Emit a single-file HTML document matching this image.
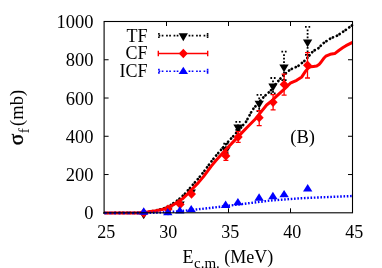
<!DOCTYPE html>
<html><head><meta charset="utf-8"><title>plot</title><style>html,body{margin:0;padding:0;background:#fff;width:382px;height:268px;overflow:hidden}</style></head><body>
<svg width="382" height="268" viewBox="0 0 382 268" style="position:absolute;left:0;top:0;will-change:transform">
<rect width="382" height="268" fill="#fff"/>
<path d="M166.50,212.80 v-4.5 M166.50,21.50 v4.5 M228.50,212.80 v-4.5 M228.50,21.50 v4.5 M290.50,212.80 v-4.5 M290.50,21.50 v4.5 M104.10,174.54 h4.5 M352.50,174.54 h-4.5 M104.10,136.28 h4.5 M352.50,136.28 h-4.5 M104.10,98.02 h4.5 M352.50,98.02 h-4.5 M104.10,59.76 h4.5 M352.50,59.76 h-4.5" stroke="#000" stroke-width="1" fill="none"/>
<path d="M139.05,211.39 L148.35,211.39 L143.70,219.25Z" fill="#000"/>
<path d="M163.35,207.59 L172.65,207.59 L168.00,215.45Z" fill="#000"/>
<path d="M175.45,201.49 L184.75,201.49 L180.10,209.35Z" fill="#000"/>
<path d="M186.65,189.49 L195.95,189.49 L191.30,197.35Z" fill="#000"/>
<path d="M225.9,146.2 V153.2 M223.3,143.6 h5.2 M223.3,153.2 h5.2" stroke="#000" stroke-width="1.8" stroke-dasharray="1.7 1.8" fill="none"/>
<path d="M221.25,146.99 L230.55,146.99 L225.90,154.85Z" fill="#000"/>
<path d="M238.0,124.4 V129.8 M235.4,121.8 h5.2 M235.4,129.8 h5.2" stroke="#000" stroke-width="1.8" stroke-dasharray="1.7 1.8" fill="none"/>
<path d="M233.35,124.39 L242.65,124.39 L238.00,132.25Z" fill="#000"/>
<path d="M259.2,97.5 V111.1 M256.6,94.9 h5.2 M256.6,111.1 h5.2" stroke="#000" stroke-width="1.8" stroke-dasharray="1.7 1.8" fill="none"/>
<path d="M254.55,100.69 L263.85,100.69 L259.20,108.55Z" fill="#000"/>
<path d="M273.0,80.6 V93.3 M270.4,78.0 h5.2 M270.4,93.3 h5.2" stroke="#000" stroke-width="1.8" stroke-dasharray="1.7 1.8" fill="none"/>
<path d="M268.35,83.59 L277.65,83.59 L273.00,91.45Z" fill="#000"/>
<path d="M284.0,54.3 V80.1 M281.4,51.7 h5.2 M281.4,80.1 h5.2" stroke="#000" stroke-width="1.8" stroke-dasharray="1.7 1.8" fill="none"/>
<path d="M279.35,64.49 L288.65,64.49 L284.00,72.35Z" fill="#000"/>
<path d="M307.6,29.5 V54.9 M305.0,26.9 h5.2 M305.0,54.9 h5.2" stroke="#000" stroke-width="1.8" stroke-dasharray="1.7 1.8" fill="none"/>
<path d="M302.95,39.49 L312.25,39.49 L307.60,47.35Z" fill="#000"/>
<path d="M104.5,213.0 L138.0,212.9 L145.0,212.4 L150.0,211.5 L156.0,210.4 L161.0,209.2 L165.0,208.0 L170.0,205.5 L175.0,202.2 L180.0,198.4 L186.0,192.7 L192.0,185.7 L198.0,178.9 L204.0,171.5 L210.0,163.3 L216.0,155.6 L222.0,148.7 L228.0,141.9 L234.0,135.4 L240.0,128.6 L246.0,121.8 L252.6,109.6 L258.0,103.4 L264.0,96.6 L270.4,91.0 L275.0,84.8 L282.6,76.0 L290.2,69.6 L297.9,66.2 L305.5,60.0 L308.7,56.3 L313.1,51.1 L318.2,48.4 L323.2,43.3 L330.9,38.2 L337.2,35.7 L344.8,30.6 L352.5,25.0" stroke="#000" stroke-width="2.7" stroke-dasharray="0.2 3.0 0.2 4.1" stroke-linecap="round" fill="none" stroke-linejoin="round"/>
<path d="M143.70,208.35 L148.20,213.00 L143.70,217.65 L139.20,213.00Z" fill="#f00"/>
<path d="M168.00,204.55 L172.50,209.20 L168.00,213.85 L163.50,209.20Z" fill="#f00"/>
<path d="M180.10,199.75 L184.60,204.40 L180.10,209.05 L175.60,204.40Z" fill="#f00"/>
<path d="M191.50,189.45 L196.00,194.10 L191.50,198.75 L187.00,194.10Z" fill="#f00"/>
<path d="M225.9,151.5 V160.4 M223.4,151.5 h5 M223.4,160.4 h5" stroke="#f00" stroke-width="1.3" fill="none"/>
<path d="M225.90,151.25 L230.40,155.90 L225.90,160.55 L221.40,155.90Z" fill="#f00"/>
<path d="M238.2,131.7 V142.3 M235.7,131.7 h5 M235.7,142.3 h5" stroke="#f00" stroke-width="1.3" fill="none"/>
<path d="M238.20,132.35 L242.70,137.00 L238.20,141.65 L233.70,137.00Z" fill="#f00"/>
<path d="M259.2,110.6 V125.6 M256.7,110.6 h5 M256.7,125.6 h5" stroke="#f00" stroke-width="1.3" fill="none"/>
<path d="M259.20,113.05 L263.70,117.70 L259.20,122.35 L254.70,117.70Z" fill="#f00"/>
<path d="M273.1,94.6 V109.8 M270.6,94.6 h5 M270.6,109.8 h5" stroke="#f00" stroke-width="1.3" fill="none"/>
<path d="M273.10,97.65 L277.60,102.30 L273.10,106.95 L268.60,102.30Z" fill="#f00"/>
<path d="M284.1,74.2 V95.2 M281.6,74.2 h5 M281.6,95.2 h5" stroke="#f00" stroke-width="1.3" fill="none"/>
<path d="M284.10,79.75 L288.60,84.40 L284.10,89.05 L279.60,84.40Z" fill="#f00"/>
<path d="M307.5,52.7 V78.0 M305.0,52.7 h5 M305.0,78.0 h5" stroke="#f00" stroke-width="1.3" fill="none"/>
<path d="M307.50,60.55 L312.00,65.20 L307.50,69.85 L303.00,65.20Z" fill="#f00"/>
<path d="M104.5,213.0 L138.0,213.0 L145.0,212.5 L150.5,211.6 L156.0,210.8 L161.0,209.8 L165.2,208.7 L170.5,206.4 L173.5,204.7 L178.7,201.3 L182.5,198.8 L186.3,195.2 L192.7,188.5 L198.4,182.6 L203.5,176.6 L208.7,169.7 L211.1,166.4 L215.5,161.0 L220.0,156.1 L226.4,149.0 L238.2,136.6 L246.7,127.7 L255.6,118.8 L259.3,114.1 L266.6,105.0 L271.0,101.5 L276.9,95.9 L282.9,90.3 L287.7,85.8 L290.3,83.2 L296.7,80.3 L301.8,76.9 L305.6,71.1 L308.0,68.2 L310.6,66.7 L313.5,66.4 L316.7,66.1 L319.0,64.6 L320.5,62.8 L324.3,57.7 L325.8,56.2 L330.2,54.3 L334.7,53.6 L339.1,50.2 L343.0,47.6 L346.0,45.7 L352.5,42.3" stroke="#f00" stroke-width="3" fill="none" stroke-linejoin="round"/>
<path d="M139.00,214.68 L148.40,214.68 L143.70,207.30Z" fill="#00f"/>
<path d="M163.10,215.28 L172.50,215.28 L167.80,207.90Z" fill="#00f"/>
<path d="M175.10,213.58 L184.50,213.58 L179.80,206.20Z" fill="#00f"/>
<path d="M186.50,212.28 L195.90,212.28 L191.20,204.90Z" fill="#00f"/>
<path d="M220.90,207.97 L230.30,207.97 L225.60,200.60Z" fill="#00f"/>
<path d="M233.20,205.28 L242.60,205.28 L237.90,197.90Z" fill="#00f"/>
<path d="M254.40,200.68 L263.80,200.68 L259.10,193.30Z" fill="#00f"/>
<path d="M268.20,199.18 L277.60,199.18 L272.90,191.80Z" fill="#00f"/>
<path d="M279.40,197.28 L288.80,197.28 L284.10,189.90Z" fill="#00f"/>
<path d="M303.00,191.38 L312.40,191.38 L307.70,184.00Z" fill="#00f"/>
<path d="M104.5,213.0 L143.0,213.0" stroke="#00f" stroke-width="2.6" stroke-dasharray="2.3 2.3" fill="none"/>
<path d="M143.0,213.0 L160.0,212.6 L180.0,211.2 L210.0,208.0 L240.0,204.3 L270.0,200.6 L301.5,198.2 L352.5,196.0" stroke="#00f" stroke-width="2.4" stroke-dasharray="1.6 1.7" fill="none"/>
<rect x="104.1" y="21.5" width="248.4" height="191.3" fill="none" stroke="#000" stroke-width="1.1"/>
<path d="M158.6,35.6 H208.4" stroke="#000" stroke-width="1.6" stroke-dasharray="1.7 1.4 1.7 2.7" fill="none"/>
<path d="M158.9,33.1 v5 M207.6,33.1 v5" stroke="#000" stroke-width="1.6" stroke-dasharray="1.7 1.6" fill="none"/>
<path d="M178.65,33.29 L187.95,33.29 L183.30,41.15Z" fill="#000"/>
<path d="M158.3,53.5 H207.7 M158.3,50.7 v5.6 M207.7,50.7 v5.6" stroke="#f00" stroke-width="1.4" fill="none"/>
<path d="M183.30,48.85 L187.80,53.50 L183.30,58.15 L178.80,53.50Z" fill="#f00"/>
<path d="M158.6,71.2 H208.4" stroke="#00f" stroke-width="1.6" stroke-dasharray="1.7 1.4 1.7 2.7" fill="none"/>
<path d="M158.9,68.7 v5 M207.6,68.7 v5" stroke="#00f" stroke-width="1.6" stroke-dasharray="1.7 1.6" fill="none"/>
<path d="M178.60,74.08 L188.00,74.08 L183.30,66.70Z" fill="#00f"/>
<text x="93.4" y="219.4" text-anchor="end" font-family="Liberation Serif, serif" font-size="18.5" fill="#000" >0</text>
<text x="93.4" y="181.1" text-anchor="end" font-family="Liberation Serif, serif" font-size="18.5" fill="#000" >200</text>
<text x="93.4" y="142.9" text-anchor="end" font-family="Liberation Serif, serif" font-size="18.5" fill="#000" >400</text>
<text x="93.4" y="104.6" text-anchor="end" font-family="Liberation Serif, serif" font-size="18.5" fill="#000" >600</text>
<text x="93.4" y="66.4" text-anchor="end" font-family="Liberation Serif, serif" font-size="18.5" fill="#000" >800</text>
<text x="93.4" y="28.1" text-anchor="end" font-family="Liberation Serif, serif" font-size="18.5" fill="#000" >1000</text>
<text x="106.2" y="237.7" text-anchor="middle" font-family="Liberation Serif, serif" font-size="18" fill="#000" >25</text>
<text x="168.2" y="237.7" text-anchor="middle" font-family="Liberation Serif, serif" font-size="18" fill="#000" >30</text>
<text x="230.2" y="237.7" text-anchor="middle" font-family="Liberation Serif, serif" font-size="18" fill="#000" >35</text>
<text x="292.2" y="237.7" text-anchor="middle" font-family="Liberation Serif, serif" font-size="18" fill="#000" >40</text>
<text x="354.2" y="237.7" text-anchor="middle" font-family="Liberation Serif, serif" font-size="18" fill="#000" >45</text>
<text x="147.5" y="41.5" text-anchor="end" font-family="Liberation Serif, serif" font-size="18" fill="#000" >TF</text>
<text x="147.5" y="59.3" text-anchor="end" font-family="Liberation Serif, serif" font-size="18" fill="#000" >CF</text>
<text x="147.5" y="77.0" text-anchor="end" font-family="Liberation Serif, serif" font-size="18" fill="#000" >ICF</text>
<text x="302.6" y="142.6" text-anchor="middle" font-family="Liberation Serif, serif" font-size="18.5" fill="#000" >(B)</text>
<text x="182.5" y="263" font-family="Liberation Serif, serif" font-size="18" fill="#000">E<tspan font-size="15" dy="5.4" dx="0.5">c.m.</tspan><tspan dy="-5.4"> (MeV)</tspan></text>
<g transform="translate(22.9,0) rotate(-90)" font-family="Liberation Serif, serif" fill="#000"><text x="-145.2" y="0" font-size="21.5" stroke="#000" stroke-width="0.35">σ</text><text x="-133.2" y="5.6" font-size="15">f</text><text x="-125.9" y="0" font-size="18.6">(mb)</text></g>
</svg>
</body></html>
